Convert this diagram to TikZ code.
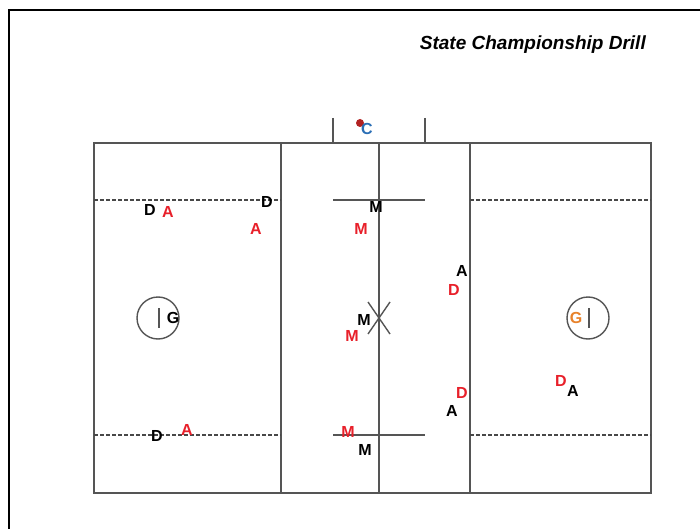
\documentclass[tikz,border=0pt]{standalone}
\usepackage{fontspec}
\setmainfont{Liberation Sans}
\definecolor{fieldline}{HTML}{555555}
\definecolor{redp}{HTML}{E8202A}
\definecolor{bluec}{HTML}{2A6EB5}
\definecolor{orangeg}{HTML}{E8822A}
\definecolor{dotred}{HTML}{B22222}
\begin{document}
\begin{tikzpicture}[x=1pt,y=-1pt,
  fl/.style={draw=fieldline,line width=1.4pt},
  dsh/.style={draw=fieldline!85!black,line width=1.2pt,dash pattern=on 4pt off 2pt},
  pl/.style={font=\fontsize{16}{16}\selectfont\bfseries,inner sep=0pt},
  blk/.style={pl,text=black},
  rd/.style={pl,text=redp}]
\useasboundingbox (0,0) rectangle (700,529);
\fill[white] (0,0) rectangle (700,529);
% outer frame
\draw[black,line width=1.5pt] (9,530) -- (9,10) -- (701,10);
% title
\node[anchor=east,inner sep=0pt,font=\fontsize{19}{19}\selectfont\bfseries\itshape] (title) at (646,45) {State Championship Drill};
% field
\draw[fl] (94,143) rectangle (651,493);
\draw[fl] (281,143) -- (281,493);
\draw[fl] (379,143) -- (379,493);
\draw[fl] (470,143) -- (470,493);
\draw[fl] (333,118) -- (333,143);
\draw[fl] (425,118) -- (425,143);
% restraining lines
\draw[dsh] (94,200) -- (281,200);
\draw[dsh] (470,200) -- (651,200);
\draw[dsh] (94,435) -- (281,435);
\draw[dsh] (470,435) -- (651,435);
\draw[fl] (333,200) -- (425,200);
\draw[fl] (333,435) -- (425,435);
% X at center
\draw[fl] (368,302) -- (390,334);
\draw[fl] (390,302) -- (368,334);
% goals
\node[draw=fieldline,line width=1.4pt,circle,minimum size=42pt,inner sep=0pt] (goalL) at (158,318) {};
\draw[fl] (159,308) -- (159,328);
\node[blk] (gL) at (173,318) {G};
\node[draw=fieldline,line width=1.4pt,circle,minimum size=42pt,inner sep=0pt] (goalR) at (588,318) {};
\draw[fl] (589,308) -- (589,328);
\node[pl,text=orangeg] (gR) at (576,318) {G};
% coach
\fill[dotred] (360,123) circle (4pt);
\node[pl,text=bluec] (coach) at (367,129) {C};
% players
\node[blk] (d1) at (150,210) {D};
\node[rd] (a1) at (168,212) {A};
\node[blk] (d2) at (267,202) {D};
\node[rd] (a2) at (256,229) {A};
\node[blk] (m1) at (376,207) {M};
\node[rd] (m2) at (361,229) {M};
\node[blk] (a3) at (462,271) {A};
\node[rd] (d3) at (454,290) {D};
\node[blk] (m3) at (364,320) {M};
\node[rd] (m4) at (352,336) {M};
\node[rd] (d4) at (462,393) {D};
\node[blk] (a4) at (452,411) {A};
\node[rd] (d5) at (561,381) {D};
\node[blk] (a5) at (573,391) {A};
\node[blk] (d6) at (157,436) {D};
\node[rd] (a6) at (187,430) {A};
\node[rd] (m5) at (348,432) {M};
\node[blk] (m6) at (365,450) {M};
\end{tikzpicture}
\end{document}
